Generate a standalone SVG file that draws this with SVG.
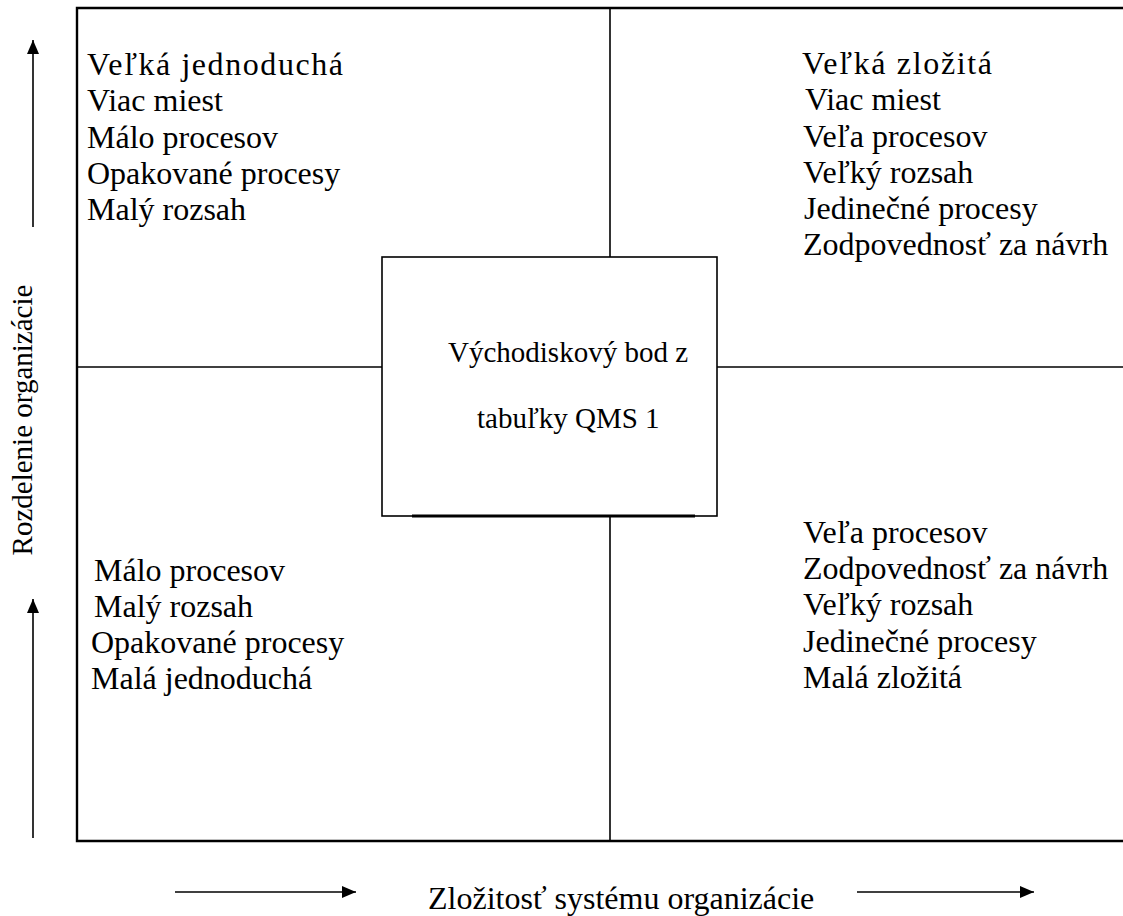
<svg xmlns="http://www.w3.org/2000/svg" width="1123" height="916" viewBox="0 0 1123 916">
<style>
text{font-family:"Liberation Serif","Times New Roman",serif;fill:#000}
.t{font-size:32px}
.c{font-size:29px}
.ln{stroke:#000;fill:none;stroke-width:1.6}
.fr{stroke:#000;fill:none;stroke-width:2.4}
</style>
<defs>
<marker id="ah" markerWidth="14" markerHeight="12" refX="14" refY="6" orient="auto" markerUnits="userSpaceOnUse">
<path d="M0,0 L14,6 L0,12 Z" fill="#000"/>
</marker>
</defs>
<rect width="1123" height="916" fill="#fff"/>
<g id="frame">
<path class="fr" d="M1125,8 H77 V841 H1125"/>
</g>
<g id="connectors">
<line class="ln" x1="610" y1="8" x2="610" y2="257"/>
<line class="ln" x1="610" y1="516" x2="610" y2="841"/>
<line class="ln" x1="77" y1="367" x2="382" y2="367"/>
<line class="ln" x1="717" y1="367" x2="1125" y2="367"/>
<line class="ln" x1="33" y1="227" x2="33" y2="40" marker-end="url(#ah)"/>
<line class="ln" x1="33" y1="838" x2="33" y2="599" marker-end="url(#ah)"/>
<line class="ln" x1="175" y1="892" x2="356" y2="892" marker-end="url(#ah)"/>
<line class="ln" x1="857" y1="892" x2="1034" y2="892" marker-end="url(#ah)"/>
</g>
<g id="center" font-family="Liberation Serif, serif">
<rect class="ln" x="382" y="257" width="335" height="259" fill="#fff"/>
<line x1="412" y1="516" x2="695" y2="516" stroke="#000" stroke-width="3.2"/>
<text class="c" x="448" y="362">Východiskový bod z</text>
<text class="c" x="477" y="428">tabuľky QMS 1</text>
</g>
<g id="q-top-left" font-family="Liberation Serif, serif">
<text class="t" x="87" y="75" textLength="256" lengthAdjust="spacing">Veľká jednoduchá</text>
<text class="t" x="87" y="111">Viac miest</text>
<text class="t" x="87" y="148">Málo procesov</text>
<text class="t" x="87" y="184">Opakované procesy</text>
<text class="t" x="87" y="220">Malý rozsah</text>
</g>
<g id="q-top-right" font-family="Liberation Serif, serif">
<text class="t" x="802" y="74" textLength="190" lengthAdjust="spacing">Veľká zložitá</text>
<text class="t" x="805" y="110">Viac miest</text>
<text class="t" x="803" y="147">Veľa procesov</text>
<text class="t" x="803" y="183">Veľký rozsah</text>
<text class="t" x="804" y="219">Jedinečné procesy</text>
<text class="t" x="803" y="255">Zodpovednosť za návrh</text>
</g>
<g id="q-bottom-left" font-family="Liberation Serif, serif">
<text class="t" x="94" y="581">Málo procesov</text>
<text class="t" x="94" y="617">Malý rozsah</text>
<text class="t" x="91" y="653">Opakované procesy</text>
<text class="t" x="91" y="689">Malá jednoduchá</text>
</g>
<g id="q-bottom-right" font-family="Liberation Serif, serif">
<text class="t" x="803" y="543">Veľa procesov</text>
<text class="t" x="803" y="579">Zodpovednosť za návrh</text>
<text class="t" x="803" y="615">Veľký rozsah</text>
<text class="t" x="803" y="652">Jedinečné procesy</text>
<text class="t" x="803" y="688">Malá zložitá</text>
</g>
<g id="axis-y" font-family="Liberation Serif, serif">
<text class="c" transform="translate(32,420) rotate(-90)" text-anchor="middle">Rozdelenie organizácie</text>
</g>
<g id="axis-x" font-family="Liberation Serif, serif">
<text class="t" x="428" y="909">Zložitosť systému organizácie</text>
</g>
</svg>
